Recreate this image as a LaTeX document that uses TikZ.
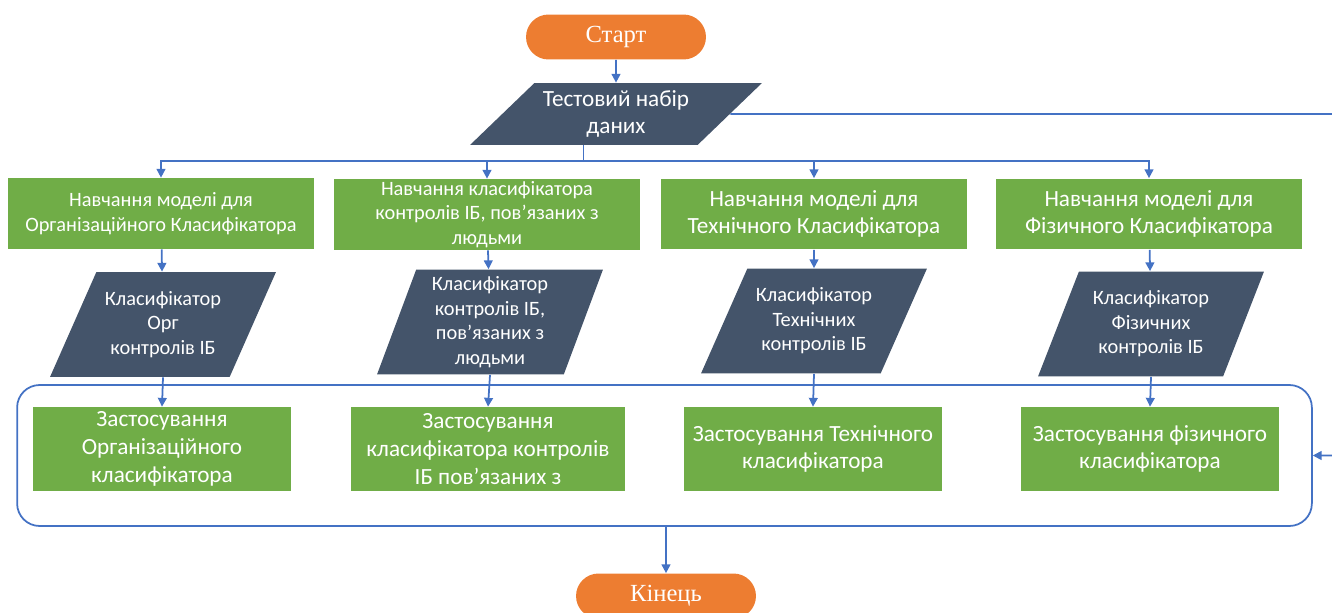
\documentclass[tikz,border=0pt]{standalone}
\usepackage{fontspec}
\setmainfont{Carlito}
\newfontfamily\termfont{Liberation Serif}
\usetikzlibrary{shapes.geometric,arrows.meta,calc}
\definecolor{startorange}{HTML}{ED7D31}
\definecolor{boxgreen}{HTML}{70AD47}
\definecolor{dataslate}{HTML}{44546A}
\definecolor{linkblue}{HTML}{4472C4}
\newcommand{\fsmall}{\fontsize{11.6}{14}\selectfont}
\newcommand{\fbig}{\fontsize{13.2}{15.8}\selectfont}

\begin{document}
\begin{tikzpicture}[x=0.02cm,y=-0.02cm,
    terminal/.style={fill=startorange, text=white, rounded corners=0.45cm,
      minimum width=3.6cm, minimum height=0.9cm, font=\termfont\fontsize{14}{16}\selectfont},
    trainbox/.style={fill=boxgreen, text=white, minimum width=6.12cm,
      minimum height=1.42cm, align=center, inner sep=1pt},
    applybox/.style={fill=boxgreen, text=white, minimum width=5.16cm,
      minimum height=1.68cm, align=center, inner sep=1pt, font=\fbig},
    databox/.style={trapezium, trapezium stretches body, trapezium left angle=#1,
      trapezium right angle=180-#1, fill=dataslate, text=white, align=center,
      inner sep=1pt, minimum width=4.52cm, minimum height=2.1cm, font=\fsmall},
    databox/.default=56.5,
    flow/.style={draw=linkblue, line width=1pt, -{Triangle[length=5pt,width=5pt]}},
  ]
  \useasboundingbox (0,0) rectangle (1332,612);

  \node[terminal] (start) at (616,37) {Старт};
  \node[databox=38.4, minimum width=5.84cm, minimum height=1.24cm, font=\fbig]
    (data) at (616,114) {Тестовий набір\\даних};

  \node[trainbox, font=\fsmall] (train1) at (161,213.5) {Навчання моделі для\\Організаційного Класифікатора};
  \node[trainbox, font=\fsmall] (train2) at (487,214.5) {Навчання класифікатора\\контролів ІБ, пов’язаних з\\людьми};
  \node[trainbox, font=\fbig] (train3) at (814,214) {Навчання моделі для\\Технічного Класифікатора};
  \node[trainbox, font=\fbig] (train4) at (1149,214) {Навчання моделі для\\Фізичного Класифікатора};

  \node[databox] (clf1) at (163,324.5) {Класифікатор\\Орг\\контролів ІБ};
  \node[databox=67.5] (clf2) at (490,322) {Класифікатор\\контролів ІБ,\\пов’язаних з\\людьми};
  \node[databox] (clf3) at (814,321) {Класифікатор\\Технічних\\контролів ІБ};
  \node[databox=59.7] (clf4) at (1151,324) {Класифікатор\\Фізичних\\контролів ІБ};

  \node[draw=linkblue, line width=1pt, rounded corners=0.45cm, minimum width=25.9cm,
    minimum height=2.82cm] (apply) at (664.5,455.5) {};

  \node[applybox] (use1) at (162,449) {Застосування\\Організаційного\\класифікатора};
  \node[applybox, minimum width=5.5cm] (use2) at (488,449) {Застосування\\класифікатора контролів\\ІБ пов’язаних з};
  \node[applybox] (use3) at (813,449) {Застосування Технічного\\класифікатора};
  \node[applybox] (use4) at (1150,449) {Застосування фізичного\\класифікатора};

  \node[terminal] (end) at (666,596) {Кінець};

  \coordinate (dbot) at ($(data.bottom left corner)!0.5!(data.bottom right corner)$);
  \coordinate (bus) at (dbot |- 0,161);
  \coordinate (loop) at (1345,114);

  \draw[flow] (start) -- (data);
  \foreach \i in {1,...,4} {
    \draw[flow] (dbot) -- (bus) -| (train\i.north);
    \draw[flow] (train\i) -- (clf\i);
    \draw[flow] (clf\i.south) -- (use\i.north);
  }
  \draw[flow] (data.east) -- (loop) |- (apply.east);
  \draw[flow] (apply.south -| end) -- (end);
\end{tikzpicture}
\end{document}
